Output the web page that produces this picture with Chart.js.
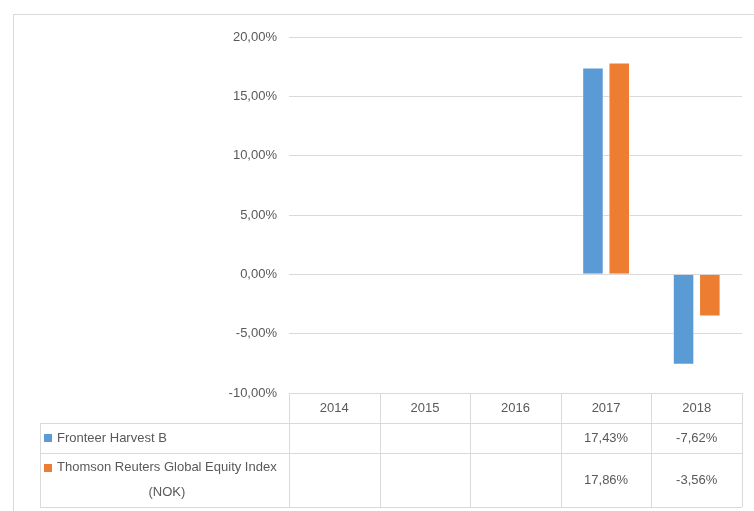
<!DOCTYPE html>
<html>
<head>
<meta charset="utf-8">
<script src="https://cdn.jsdelivr.net/npm/chart.js@4.4.0/dist/chart.umd.min.js"></script>
<style>
  html, body { margin: 0; padding: 0; background: #fff; }
  #wrap { position: relative; width: 754px; height: 511px; overflow: hidden; }
  #frame { position: absolute; left: 13px; top: 14px; width: 800px; height: 600px;
           border-top: 1px solid #d9d9d9; border-left: 1px solid #d9d9d9; }
  canvas { position: absolute; left: 0; top: 0; }
</style>
</head>
<body>
<div id="wrap">
  <div id="frame"></div>
  <canvas id="returnsChart" width="754" height="511"></canvas>
</div>
<script>
var years = ['2014', '2015', '2016', '2017', '2018'];
var seriesNames = ['Fronteer Harvest B', 'Thomson Reuters Global Equity Index (NOK)'];
var fronteer = [null, null, null, 17.43, -7.62];
var thomson = [null, null, null, 17.86, -3.56];
var colors = ['#5B9BD5', '#ED7D31'];

var fontFamily = '"Liberation Sans Narrow", "Liberation Sans", Arial, sans-serif';
var textColor = '#595959';
var lineColor = '#d9d9d9';

function pct(v) {
    return v.toFixed(2).replace('.', ',') + '%';
}

// data table below the plot, drawn from the x scale
var dataTable = {
    id: 'dataTable',
    afterDraw: function(chart) {
        var c = chart.ctx;
        var area = chart.chartArea;
        var xs = chart.scales.x;
        var n = years.length;
        var colW = (area.right - area.left) / n;
        var labelLeft = 40;
        var top = area.bottom;
        var rowH = [30, 30, 54];
        var rowTop = [top, top + rowH[0], top + rowH[0] + rowH[1]];
        var bottom = rowTop[2] + rowH[2];

        c.save();
        c.strokeStyle = lineColor;
        c.lineWidth = 1;
        c.beginPath();
        // horizontal lines
        c.moveTo(area.left, top + 0.5); c.lineTo(area.right, top + 0.5);
        c.moveTo(labelLeft, rowTop[1] + 0.5); c.lineTo(area.right, rowTop[1] + 0.5);
        c.moveTo(labelLeft, rowTop[2] + 0.5); c.lineTo(area.right, rowTop[2] + 0.5);
        c.moveTo(labelLeft, bottom + 0.5); c.lineTo(area.right, bottom + 0.5);
        // vertical lines
        c.moveTo(labelLeft + 0.5, rowTop[1]); c.lineTo(labelLeft + 0.5, bottom);
        for (var i = 0; i <= n; i++) {
            var x = Math.round(area.left + i * colW) + 0.5;
            c.moveTo(x, top); c.lineTo(x, bottom);
        }
        c.stroke();

        c.font = '13px ' + fontFamily;
        c.fillStyle = textColor;
        c.textAlign = 'center';
        c.textBaseline = 'middle';
        years.forEach(function(y, i) {
            c.fillText(y, xs.getPixelForValue(i), top + rowH[0] / 2);
        });

        var rows = [fronteer, thomson];
        rows.forEach(function(vals, r) {
            var cy = rowTop[r + 1] + rowH[r + 1] / 2;
            vals.forEach(function(v, i) {
                if (v !== null) c.fillText(pct(v), xs.getPixelForValue(i), cy);
            });

            // legend key + wrapped series name
            var maxW = area.left - labelLeft - 24;
            var words = seriesNames[r].split(' ');
            var lines = [];
            var cur = '';
            words.forEach(function(w) {
                var t = cur ? cur + ' ' + w : w;
                if (c.measureText(t).width > maxW && cur) { lines.push(cur); cur = w; }
                else cur = t;
            });
            lines.push(cur);
            var widest = 0;
            lines.forEach(function(l) { widest = Math.max(widest, c.measureText(l).width); });
            var lh = 25;
            var firstY = cy - (lines.length - 1) * lh / 2;
            var textLeft = labelLeft + 17;
            lines.forEach(function(l, k) {
                c.fillText(l, textLeft + widest / 2, firstY + k * lh);
            });
            c.fillStyle = colors[r];
            c.fillRect(labelLeft + 4, Math.round(firstY) - 4, 8, 8);
            c.fillStyle = textColor;
        });
        c.restore();
    }
};

var ctx = document.getElementById('returnsChart').getContext('2d');
var returnsChart = new Chart(ctx, {
    type: 'bar',
    data: {
        labels: years,
        datasets: [{
            label: seriesNames[0],
            data: fronteer,
            backgroundColor: colors[0],
            borderColor: 'rgba(255,255,255,0.6)',
            borderWidth: 1
        }, {
            label: seriesNames[1],
            data: thomson,
            backgroundColor: colors[1],
            borderColor: 'rgba(255,255,255,0.6)',
            borderWidth: 1
        }]
    },
    options: {
        responsive: false,
        animation: false,
        categoryPercentage: 0.58,
        barPercentage: 0.82,
        layout: {
            padding: { top: 37, right: 12, bottom: 118, left: 0 }
        },
        plugins: {
            legend: { display: false },
            tooltip: { enabled: false }
        },
        scales: {
            x: {
                display: false
            },
            y: {
                min: -10,
                max: 20,
                ticks: {
                    stepSize: 5,
                    padding: 12,
                    color: textColor,
                    font: { family: fontFamily, size: 13 },
                    callback: function(v) { return pct(v); }
                },
                grid: {
                    color: function(c) { return c.tick.value === -10 ? 'rgba(0,0,0,0)' : lineColor; },
                    drawTicks: false
                },
                border: { display: false },
                afterFit: function(scale) { scale.width = 289; }
            }
        }
    },
    plugins: [dataTable]
});
</script>
</body>
</html>
